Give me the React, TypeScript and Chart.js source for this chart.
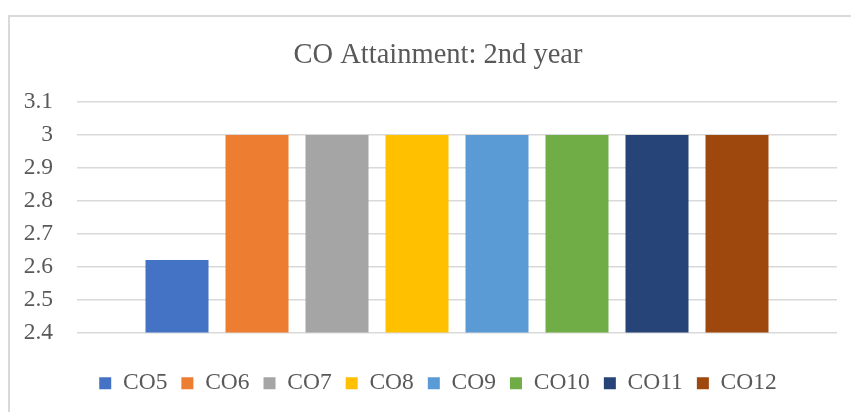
import React, { useEffect, useRef } from 'react';
import { Chart, registerables } from 'chart.js';

Chart.register(...registerables);

const chartTitle = 'CO Attainment: 2nd year';
const categories = ['CO5', 'CO6', 'CO7', 'CO8', 'CO9', 'CO10', 'CO11', 'CO12'];
const values = [2.62, 3, 3, 3, 3, 3, 3, 3];
const colors = ['#4472C4', '#ED7D31', '#A5A5A5', '#FFC000', '#5B9BD5', '#70AD47', '#264478', '#9E480E'];
const yMin = 2.4;
const yMax = 3.1;
const yStep = 0.1;

export default function App() {
  const ref = useRef<HTMLCanvasElement>(null);

  useEffect(() => {
    const font = '"Liberation Serif", "Times New Roman", serif';
    const chart = new Chart(ref.current as HTMLCanvasElement, {
      type: 'bar',
      data: {
        labels: [''],
        datasets: categories.map((c, i) => ({
          label: c,
          data: [values[i]],
          backgroundColor: colors[i],
          borderWidth: 0,
          categoryPercentage: 0.8421,
          barPercentage: 0.7875,
        })),
      },
      options: {
        animation: false,
        responsive: false,
        maintainAspectRatio: false,
        layout: { padding: { left: 0, right: 0, top: 0, bottom: 12 } },
        plugins: {
          title: {
            display: true,
            text: chartTitle,
            color: '#595959',
            font: { family: font, size: 28.5, weight: 'normal', lineHeight: 1.2 },
            padding: { top: 21, bottom: 30 },
          },
          legend: {
            position: 'bottom',
            labels: {
              boxWidth: 12,
              boxHeight: 12,
              padding: 14,
              color: '#595959',
              font: { family: font, size: 23.5 },
            },
          },
          tooltip: { enabled: false },
        },
        scales: {
          x: {
            display: true,
            grid: { display: false },
            border: { display: false },
            ticks: { display: false },
            afterFit: (s: any) => { s.height = 25; },
          },
          y: {
            min: yMin,
            max: yMax,
            ticks: {
              stepSize: yStep,
              padding: 24,
              color: '#595959',
              font: { family: font, size: 23.5 },
              callback: (v: any) => String(Math.round(Number(v) * 10) / 10),
            },
            grid: { color: '#d9d9d9', lineWidth: 1.5, drawTicks: false },
            border: { display: false },
            afterFit: (s: any) => { s.width = 67; },
          },
          y2: {
            position: 'right',
            display: true,
            grid: { display: false },
            ticks: { display: false },
            border: { display: false },
            afterFit: (s: any) => { s.width = 29; },
          },
        },
      } as any,
    });
    return () => chart.destroy();
  }, []);

  return (
    <div
      style={{
        position: 'fixed',
        left: 8,
        top: 15,
        width: 860,
        height: 420,
        borderTop: '2px solid #d9d9d9',
        borderLeft: '2px solid #d9d9d9',
        boxSizing: 'border-box',
        background: '#fff',
      }}
    >
      <canvas ref={ref} width={856} height={400} style={{ display: 'block', width: 856, height: 400 }} />
    </div>
  );
}
